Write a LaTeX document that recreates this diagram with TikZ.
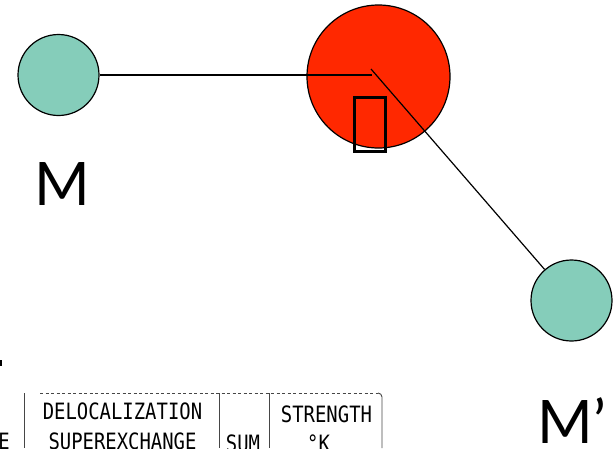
\documentclass[tikz,border=0pt]{standalone}
\usepackage{fontspec}
\setmainfont{Lato}
\newfontfamily\scanfont{DejaVu Sans Mono}
\definecolor{atomred}{RGB}{255,40,0}
\definecolor{atomteal}{RGB}{133,205,186}
\definecolor{scangray}{RGB}{70,70,70}
\begin{document}
\begin{tikzpicture}[x=1pt,y=-1pt,
  metal/.style={circle,draw=black,line width=1.2pt,fill=atomteal,minimum size=81pt,inner sep=0pt},
  ligand/.style={circle,draw=black,line width=1.2pt,fill=atomred,minimum size=143pt,inner sep=0pt},
  bond/.style={draw=black,line width=1.2pt},
  biglabel/.style={font=\fontsize{60}{60}\selectfont,inner sep=0pt,anchor=base},
  scantext/.style={font=\scanfont\fontsize{22.5}{22.5}\selectfont,inner sep=0pt,anchor=base,xscale=0.84,text=black},
  rule/.style={draw=scangray,line width=0.9pt}]
\useasboundingbox (0,0) rectangle (613,448);
\clip (0,0) rectangle (613,448);
% atoms
\node[ligand] (O) at (378.5,76.5) {};
\node[metal] (M) at (58.5,75) {};
\node[metal] (Mp) at (571.5,300.5) {};
\coordinate (c1) at (372,75);
\coordinate (c2) at (371,69);
\draw[bond] (M.east) -- (c1);
\draw[bond] (c2) -- (Mp);
% missing-glyph box
\node[draw=black,line width=3pt,minimum width=31pt,minimum height=54pt,inner sep=0pt] (box) at (369.5,124) {};
% labels
\node[biglabel] (lm) at (62.5,205) {M};
\node[biglabel] (lmp) at (572,443) {M’};
% bullet fragment
\fill[black] (0,360) rectangle (2,366);
% scanned table fragment
\draw[scangray,line width=0.7pt,dash pattern=on 3pt off 2.5pt] (40,393) -- (378,393);
\draw[rule] (378,393) to[out=0,in=90] (382,397) -- (382,448);
\draw[rule] (24,393) -- (24,448);
\draw[rule] (219,393) -- (219,448);
\draw[rule] (269,393) -- (269,448);
\node[scantext] (t1) at (122.5,419.5) {DELOCALIZATION};
\node[scantext] (t2) at (122.5,449.5) {SUPEREXCHANGE};
\node[scantext] (t3) at (4,449.5) {E};
\node[scantext] (t4) at (243,451.5) {SUM};
\node[scantext] (t5) at (326.5,422) {STRENGTH};
\node[scantext] (t6) at (318.5,451.5) {°K};
\end{tikzpicture}
\end{document}
